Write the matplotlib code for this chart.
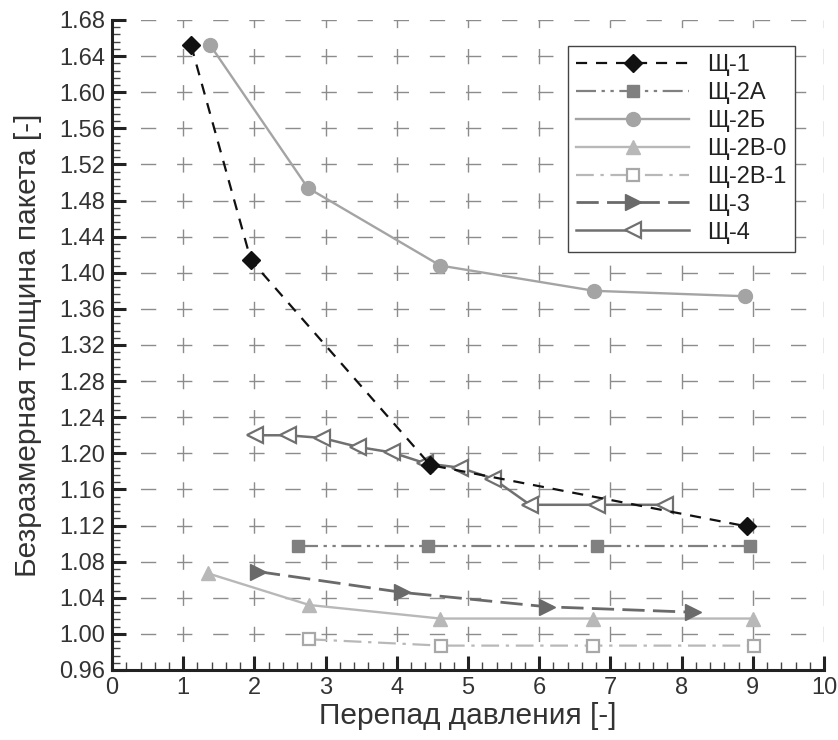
import matplotlib
matplotlib.use("Agg")
import matplotlib.pyplot as plt
from matplotlib.ticker import MultipleLocator, FormatStrFormatter

plt.rcParams['font.family'] = ['Liberation Sans', 'DejaVu Sans']

# Series data
x_sh1 = [1.11, 1.95, 4.47, 8.92]
y_sh1 = [1.652, 1.414, 1.187, 1.119]

x_sh2a = [2.61, 4.44, 6.81, 8.96]
y_sh2a = [1.097, 1.097, 1.097, 1.097]

x_sh2b = [1.38, 2.75, 4.61, 6.77, 8.89]
y_sh2b = [1.652, 1.494, 1.408, 1.380, 1.374]

x_sh2v0 = [1.35, 2.77, 4.61, 6.76, 9.00]
y_sh2v0 = [1.067, 1.032, 1.017, 1.017, 1.017]

x_sh2v1 = [2.77, 4.62, 6.76, 9.01]
y_sh2v1 = [0.994, 0.987, 0.987, 0.987]

x_sh3 = [2.05, 4.07, 6.11, 8.16]
y_sh3 = [1.069, 1.046, 1.030, 1.024]

x_sh4 = [2.01, 2.47, 2.95, 3.46, 3.93, 4.40, 4.89, 5.35, 5.87, 6.81, 7.77]
y_sh4 = [1.220, 1.220, 1.217, 1.207, 1.201, 1.189, 1.184, 1.172, 1.143, 1.143, 1.143]

labels = ['Щ-1', 'Щ-2А', 'Щ-2Б', 'Щ-2В-0', 'Щ-2В-1', 'Щ-3', 'Щ-4']

x_label = 'Перепад давления [-]'
y_label = 'Безразмерная толщина пакета [-]'

fig = plt.figure(figsize=(8.38, 7.40), dpi=100)
ax = fig.add_axes([0.1337, 0.0946, 0.8496, 0.8784])

ax.plot(x_sh1, y_sh1, color='#111111', lw=1.6, ls=(0, (5, 4)),
        marker='D', ms=9, mfc='#111111', mec='#111111', label=labels[0], zorder=5)
ax.plot(x_sh2a, y_sh2a, color='#808080', lw=1.6, ls=(0, (9, 2.5, 1.5, 2.5, 1.5, 2.5)),
        marker='s', ms=9, mfc='#808080', mec='#808080', label=labels[1], zorder=4)
ax.plot(x_sh2b, y_sh2b, color='#a4a4a4', lw=1.7, ls='-',
        marker='o', ms=10, mfc='#a4a4a4', mec='#a4a4a4', label=labels[2], zorder=4)
ax.plot(x_sh2v0, y_sh2v0, color='#b8b8b8', lw=1.7, ls='-',
        marker='^', ms=10, mfc='#b8b8b8', mec='#b8b8b8', label=labels[3], zorder=4)
ax.plot(x_sh2v1, y_sh2v1, color='#b8b8b8', lw=1.6, ls=(0, (8, 3, 1.5, 3)),
        marker='s', ms=9, mfc='white', mec='#a8a8a8', mew=1.6, label=labels[4], zorder=4)
ax.plot(x_sh3, y_sh3, color='#6a6a6a', lw=2.0, ls=(0, (8, 3)),
        marker='>', ms=11, mfc='#6a6a6a', mec='#6a6a6a', label=labels[5], zorder=4)
ax.plot(x_sh4, y_sh4, color='#707070', lw=1.8, ls='-',
        marker='<', ms=11, mfc='white', mec='#707070', mew=1.6, label=labels[6], zorder=4)

ax.set_xlim(0, 10)
ax.set_ylim(0.96, 1.68)
ax.xaxis.set_major_locator(MultipleLocator(1))
ax.xaxis.set_minor_locator(MultipleLocator(0.2))
ax.yaxis.set_major_locator(MultipleLocator(0.04))
ax.yaxis.set_minor_locator(MultipleLocator(0.008))
ax.yaxis.set_major_formatter(FormatStrFormatter('%.2f'))

for side in ('top', 'right'):
    ax.spines[side].set_visible(False)
for side in ('left', 'bottom'):
    ax.spines[side].set_linewidth(2.2)
    ax.spines[side].set_color('#222222')

ax.tick_params(which='major', direction='in', length=10, width=2.2, color='#222222',
               labelsize=17, labelcolor='#333333', pad=5)
ax.tick_params(which='minor', direction='in', length=6, width=1.0, color='#444444')

ax.grid(True, which='major', color='#8c8c8c', lw=1.0, ls=(5.5, (11, 15)))
ax.set_axisbelow(True)

ax.set_xlabel(x_label, fontsize=21.5, color='#333333', labelpad=2)
ax.set_ylabel(y_label, fontsize=21.5, color='#333333', labelpad=12)

leg = ax.legend(loc='upper right', bbox_to_anchor=(0.959, 0.96), fontsize=17,
                handlelength=4.8, handletextpad=0.75, labelspacing=0.25,
                borderpad=0.35, fancybox=False, framealpha=1, edgecolor='#444444',
                markerscale=1.0, borderaxespad=0)
leg.get_frame().set_linewidth(1.0)
for t in leg.get_texts():
    t.set_color('#222222')

fig.savefig('out.png', dpi=100)
